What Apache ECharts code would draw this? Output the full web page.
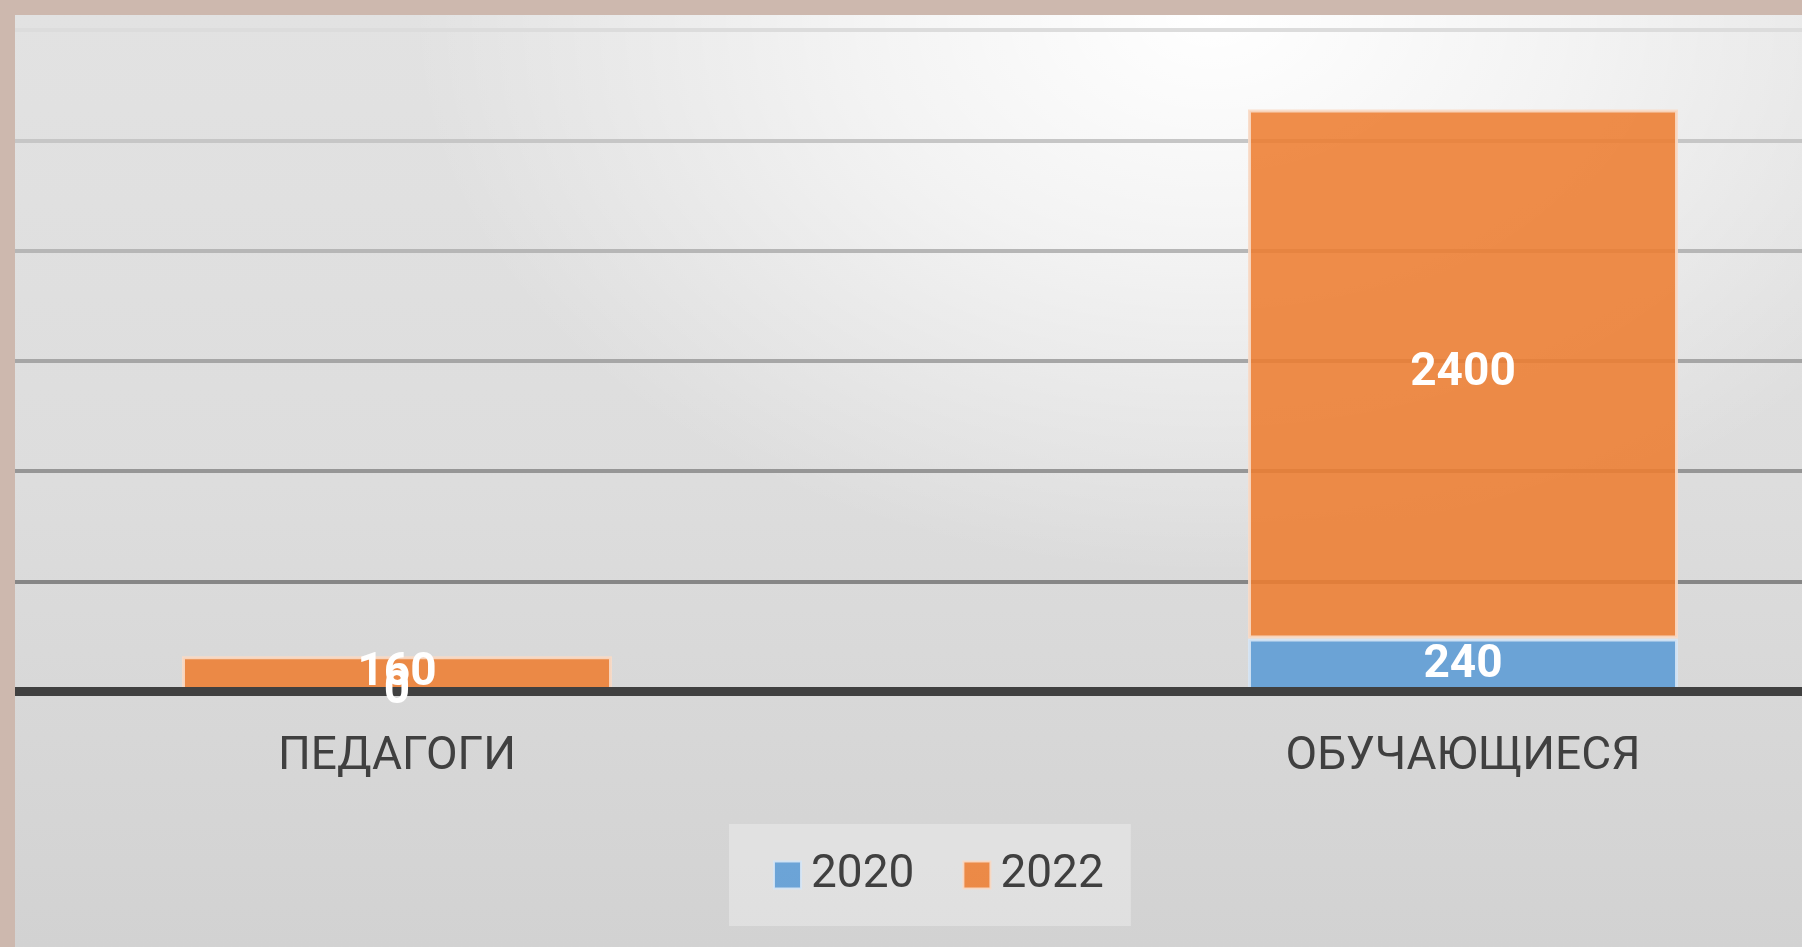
<!DOCTYPE html>
<html>
<head>
<meta charset="utf-8">
<script src="https://cdn.jsdelivr.net/npm/echarts@6/dist/echarts.min.js"></script>
<style>
  html, body { margin:0; padding:0; width:1802px; height:947px; overflow:hidden; background:#cdb8ae; }
  #frame {
    position:absolute; left:15px; top:15px; width:1787px; height:932px; overflow:hidden;
    background:
      radial-gradient(ellipse 45% 60% at 67% 0%, rgba(255,255,255,1) 0%, rgba(255,255,255,0.6) 45%, rgba(255,255,255,0) 100%),
      linear-gradient(180deg, #e2e2e2 0%, #dddddd 50%, #d2d2d2 100%);
  }
  #chart { position:absolute; left:-151px; top:0; width:2132px; height:932px; }
</style>
</head>
<body>
<div id="frame"><div id="chart"></div></div>
<script>
const categories = ['ПЕДАГОГИ', 'ОБУЧАЮЩИЕСЯ'];
const seriesNames = ['2020', '2022'];
const values2020 = [0, 240];
const values2022 = [160, 2400];
const yTicks = [0, 500, 1000, 1500, 2000, 2500, 3000];

const chart = echarts.init(document.getElementById('chart'), null, {renderer:'canvas'});
const labelStyle = {
  show: true, position: 'inside', color: '#ffffff', fontWeight: 'bold',
  fontSize: 46, fontFamily: 'Roboto'
};
chart.setOption({
  backgroundColor: 'transparent',
  animation: false,
  grid: { left: 0, right: 0, top: 15, bottom: 255.5, containLabel: false },
  legend: {
    data: seriesNames,
    left: 865, top: 809,
    padding: [28, 27, 28, 44],
    backgroundColor: 'rgba(255,255,255,0.3)',
    icon: 'rect',
    itemWidth: 27, itemHeight: 27, itemGap: 48,
    textStyle: { color: '#404040', fontSize: 46, fontFamily: 'Roboto', padding: [0, 0, 0, 5] }
  },
  xAxis: {
    type: 'category', data: categories, z: 5,
    axisLine: { lineStyle: { color: '#404040', width: 9 } },
    axisTick: { show: false },
    axisLabel: { color: '#404040', fontSize: 46, fontFamily: 'Roboto', margin: 43 },
    splitLine: { show: false }
  },
  yAxis: {
    type: 'value', min: yTicks[0], max: yTicks[yTicks.length-1], interval: yTicks[1]-yTicks[0],
    axisLine: { show: false }, axisTick: { show: false }, axisLabel: { show: false },
    splitLine: { lineStyle: { width: 4, color: ['#404040','#868686','#969696','#a6a6a6','#b6b6b6','#c6c6c6','#dcdcdc'] } }
  },
  series: [
    { name: seriesNames[0], type: 'bar', stack: 'a', barWidth: 430, z: 2, data: values2020,
      itemStyle: { color: 'rgba(91,155,213,0.88)', borderColor: 'rgba(214,230,245,0.9)', borderWidth: 3 },
      label: { show: false } },
    { name: seriesNames[1], type: 'bar', stack: 'a', barWidth: 430, z: 2, data: values2022,
      itemStyle: { color: 'rgba(237,125,49,0.88)', borderColor: 'rgba(248,218,198,0.9)', borderWidth: 3 },
      label: { show: false } },
    { name: 'lbl2020', type: 'bar', stack: 'b', barWidth: 430, barGap: '-100%', z: 8, data: values2020,
      itemStyle: { color: 'rgba(0,0,0,0)' }, label: labelStyle, silent: true },
    { name: 'lbl2022', type: 'bar', stack: 'b', barWidth: 430, barGap: '-100%', z: 8, data: values2022,
      itemStyle: { color: 'rgba(0,0,0,0)' }, label: labelStyle, silent: true }
  ]
});
</script>
</body>
</html>
